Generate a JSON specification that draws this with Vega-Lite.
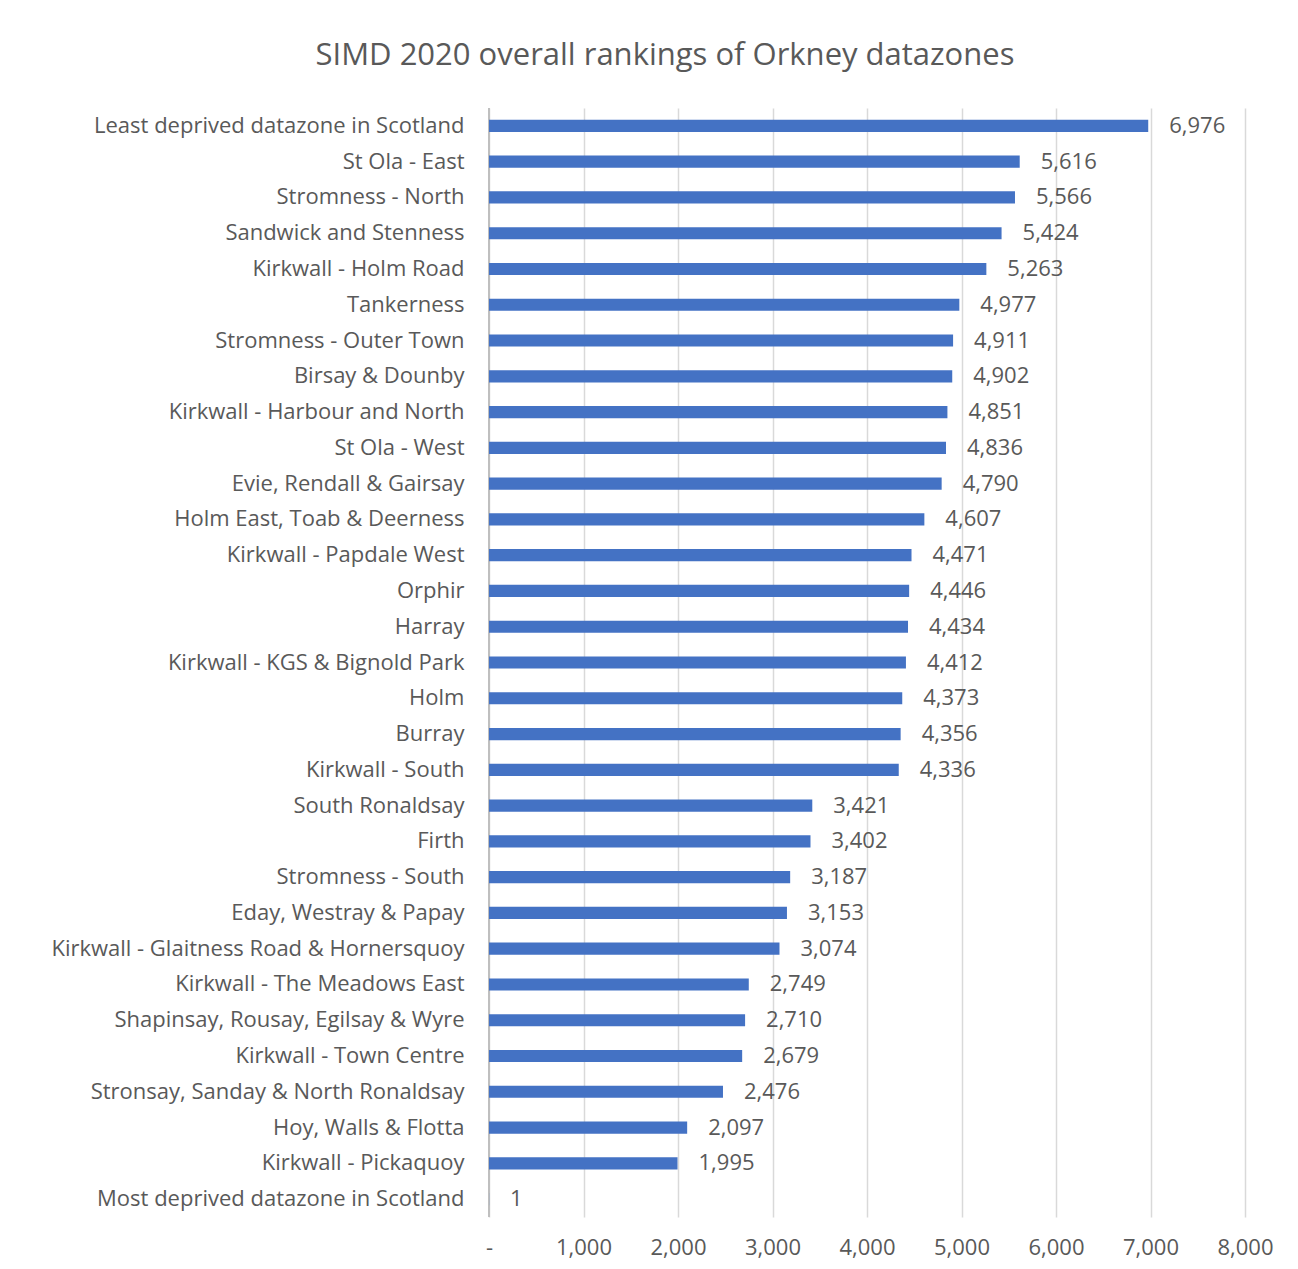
{
  "$schema": "https://vega.github.io/schema/vega-lite/v6.json",
  "autosize": "none",
  "width": 756,
  "height": 1109,
  "padding": {"left": 489, "top": 108, "right": 53, "bottom": 52},
  "background": "white",
  "title": {
    "text": "SIMD 2020 overall rankings of Orkney datazones",
    "anchor": "middle",
    "dx": -202,
    "offset": 35,
    "fontSize": 31,
    "font": "Open Sans",
    "fontWeight": "normal",
    "color": "#595959"
  },
  "data": {
    "values": [
      {"zone": "Least deprived datazone in Scotland", "rank": 6976},
      {"zone": "St Ola - East", "rank": 5616},
      {"zone": "Stromness - North", "rank": 5566},
      {"zone": "Sandwick and Stenness", "rank": 5424},
      {"zone": "Kirkwall - Holm Road", "rank": 5263},
      {"zone": "Tankerness", "rank": 4977},
      {"zone": "Stromness - Outer Town", "rank": 4911},
      {"zone": "Birsay & Dounby", "rank": 4902},
      {"zone": "Kirkwall - Harbour and North", "rank": 4851},
      {"zone": "St Ola - West", "rank": 4836},
      {"zone": "Evie, Rendall & Gairsay", "rank": 4790},
      {"zone": "Holm East, Toab & Deerness", "rank": 4607},
      {"zone": "Kirkwall - Papdale West", "rank": 4471},
      {"zone": "Orphir", "rank": 4446},
      {"zone": "Harray", "rank": 4434},
      {"zone": "Kirkwall - KGS & Bignold Park", "rank": 4412},
      {"zone": "Holm", "rank": 4373},
      {"zone": "Burray", "rank": 4356},
      {"zone": "Kirkwall - South", "rank": 4336},
      {"zone": "South Ronaldsay", "rank": 3421},
      {"zone": "Firth", "rank": 3402},
      {"zone": "Stromness - South", "rank": 3187},
      {"zone": "Eday, Westray & Papay", "rank": 3153},
      {"zone": "Kirkwall - Glaitness Road & Hornersquoy", "rank": 3074},
      {"zone": "Kirkwall - The Meadows East", "rank": 2749},
      {"zone": "Shapinsay, Rousay, Egilsay & Wyre", "rank": 2710},
      {"zone": "Kirkwall - Town Centre", "rank": 2679},
      {"zone": "Stronsay, Sanday & North Ronaldsay", "rank": 2476},
      {"zone": "Hoy, Walls & Flotta", "rank": 2097},
      {"zone": "Kirkwall - Pickaquoy", "rank": 1995},
      {"zone": "Most deprived datazone in Scotland", "rank": 1}
    ]
  },
  "encoding": {
    "y": {
      "field": "zone",
      "type": "nominal",
      "sort": null,
      "title": null,
      "scale": {"paddingInner": 0.66, "paddingOuter": 0.33},
      "axis": {
        "domain": false,
        "ticks": false,
        "grid": false,
        "labelFont": "Open Sans",
        "labelFontSize": 22,
        "labelColor": "#595959",
        "labelPadding": 25,
        "labelLimit": 600
      }
    },
    "x": {
      "field": "rank",
      "type": "quantitative",
      "title": null,
      "scale": {"domain": [0, 8000], "nice": false},
      "axis": {
        "values": [0, 1000, 2000, 3000, 4000, 5000, 6000, 7000, 8000],
        "labelExpr": "datum.value == 0 ? '-' : format(datum.value, ',')",
        "labelFlush": false,
        "domain": false,
        "ticks": false,
        "grid": true,
        "gridColor": "#d9d9d9",
        "gridWidth": 1.5,
        "labelFont": "Open Sans",
        "labelFontSize": 22,
        "labelColor": "#595959",
        "labelPadding": 20
      }
    }
  },
  "layer": [
    {
      "mark": {"type": "rule", "color": "#bfbfbf", "strokeWidth": 1.5},
      "encoding": {"x": {"datum": 0}, "y": null}
    },
    {
      "mark": {"type": "bar", "color": "#4472c4"}
    },
    {
      "mark": {
        "type": "text",
        "align": "left",
        "dx": 21,
        "font": "Open Sans",
        "fontSize": 22,
        "color": "#595959"
      },
      "encoding": {
        "text": {"field": "rank", "type": "quantitative", "format": ","}
      }
    }
  ],
  "config": {"view": {"stroke": null}}
}
